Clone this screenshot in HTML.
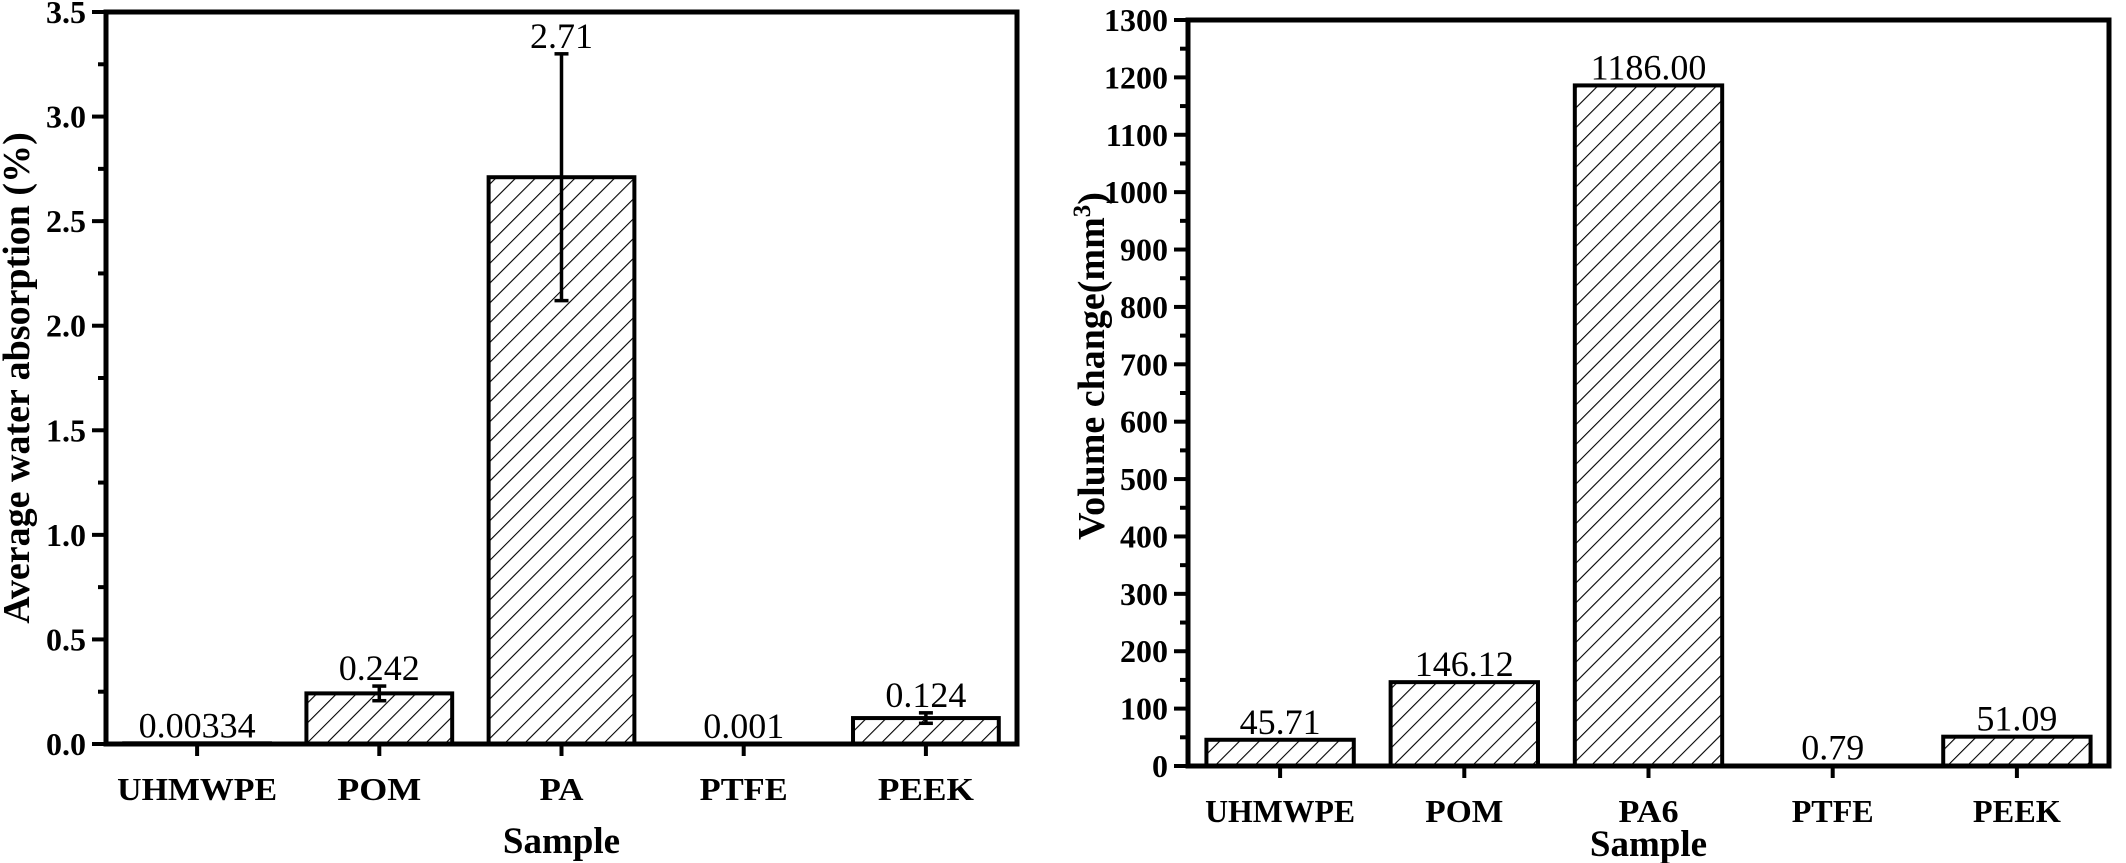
<!DOCTYPE html>
<html><head><meta charset="utf-8">
<style>
html,body{margin:0;padding:0;background:#fff;}
svg{display:block;font-family:"Liberation Serif",serif;}
</style></head>
<body>
<svg id="fig" width="2126" height="863" viewBox="0 0 2126 863">
<defs>
<pattern id="hatch" patternUnits="userSpaceOnUse" width="14" height="14" patternTransform="rotate(45)">
<line x1="0" y1="0" x2="0" y2="14" stroke="#000" stroke-width="2.2"/>
</pattern>
</defs>
</svg>
<script>
const categoriesA = ["UHMWPE","POM","PA","PTFE","PEEK"];
const valuesA = [0.00334,0.242,2.71,0.001,0.124];
const errorsA = [0,0.035,0.59,0,0.025];
const valueLabelsA = ["0.00334","0.242","2.71","0.001","0.124"];
const ticksA = [0,0.5,1.0,1.5,2.0,2.5,3.0,3.5];
const tickLabelsA = ["0.0","0.5","1.0","1.5","2.0","2.5","3.0","3.5"];

const categoriesB = ["UHMWPE","POM","PA6","PTFE","PEEK"];
const valuesB = [45.71,146.12,1186.00,0.79,51.09];
const valueLabelsB = ["45.71","146.12","1186.00","0.79","51.09"];
const ticksB = [0,100,200,300,400,500,600,700,800,900,1000,1100,1200,1300];

const NS="http://www.w3.org/2000/svg";
const svg=document.getElementById('fig');
function mk(tag,attrs,parent){const e=document.createElementNS(NS,tag);for(const k in attrs)e.setAttribute(k,attrs[k]);(parent||svg).appendChild(e);return e;}

function chart(o){
  const g=mk('g',{});
  
  
  const x0=o.left,x1=o.right,y0=o.top,y1=o.bottom;
  const ys=v=>y1-(v-o.min)/(o.max-o.min)*(y1-y0);
  const band=(x1-x0)/o.cats.length;
  const xc=i=>x0+band*(i+0.5);
  const bw=band*0.8;
  o.vals.forEach((v,i)=>{
    const r=mk('rect',{x:xc(i)-bw/2,y:ys(v),width:bw,height:Math.max(0,y1-ys(v)),fill:'url(#hatch)',stroke:'#000','stroke-width':4},g);
    
    
    if(o.errs&&o.errs[i]>0){
      const e=o.errs[i],cx=xc(i),cap=7;
      const eg=mk('g',{stroke:'#000','stroke-width':3.5},g);
      
      
      mk('line',{x1:cx,x2:cx,y1:ys(v+e),y2:ys(v-e)},eg);
      mk('line',{x1:cx-cap,x2:cx+cap,y1:ys(v+e),y2:ys(v+e)},eg);
      mk('line',{x1:cx-cap,x2:cx+cap,y1:ys(v-e),y2:ys(v-e)},eg);
    }
    const topv=o.errs&&o.errs[i]>0?v+o.errs[i]:v;
    const t=mk('text',{x:xc(i),y:ys(topv)-6,'text-anchor':'middle','font-size':36},g);
    t.textContent=o.labels[i];
    
    
  });
  o.ticks.forEach((v,i)=>{
    const y=ys(v);
    mk('line',{x1:x0-14,x2:x0,y1:y,y2:y,stroke:'#000','stroke-width':4},g);
    if(i<o.ticks.length-1){const ym=ys((v+o.ticks[i+1])/2);mk('line',{x1:x0-8,x2:x0,y1:ym,y2:ym,stroke:'#000','stroke-width':4},g);}
    const t=mk('text',{x:x0-20,y:y+11,'text-anchor':'end','font-size':32,'font-weight':'bold'},g);
    t.textContent=o.tickLabels?o.tickLabels[i]:String(v);
    
    
  });
  o.cats.forEach((c,i)=>{
    mk('line',{x1:xc(i),x2:xc(i),y1:y1,y2:y1+12,stroke:'#000','stroke-width':4},g);
    const t=mk('text',{x:xc(i),y:o.catY,'text-anchor':'middle','font-size':32,'font-weight':'bold',textLength:o.catW[i],lengthAdjust:'spacingAndGlyphs'},g);
    t.textContent=c;
    
    
  });
  const f=mk('rect',{x:x0,y:y0,width:x1-x0,height:y1-y0,fill:'none',stroke:'#000','stroke-width':5},g);
  
  
  const xt=mk('text',{x:(x0+x1)/2,y:o.xTitleY,'text-anchor':'middle','font-size':37,'font-weight':'bold'},g);
  xt.textContent='Sample';
  
  
  const yt=mk('text',{x:0,y:0,'text-anchor':'middle','font-size':38,'font-weight':'bold',transform:'translate('+o.yTitleX+','+o.yTitleY+') rotate(-90)'},g);
  yt.innerHTML=o.yTitle;
  
  
}

chart({name:'water-absorption-chart',left:106,right:1017,top:12,bottom:744,min:0,max:3.5,
  cats:categoriesA,vals:valuesA,errs:errorsA,labels:valueLabelsA,ticks:ticksA,tickLabels:tickLabelsA,
  catW:[160,84,44,88,96],
  catY:800,xTitleY:853,yTitleX:29,yTitleY:378,yTitle:'Average water absorption (%)'});
chart({name:'volume-change-chart',left:1188,right:2109,top:20,bottom:766,min:0,max:1300,
  cats:categoriesB,vals:valuesB,errs:null,labels:valueLabelsB,ticks:ticksB,
  catW:[150,78,60,82,88],
  catY:822,xTitleY:856,yTitleX:1104,yTitleY:366,yTitle:'Volume change(mm<tspan dy="-14" font-size="25">3</tspan><tspan dy="14">)</tspan>'});
</script>
</body></html>
